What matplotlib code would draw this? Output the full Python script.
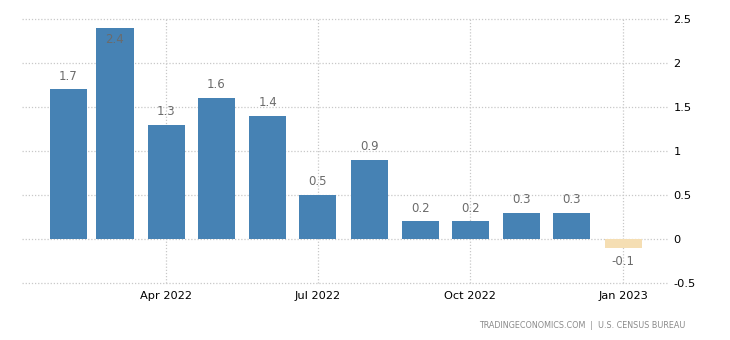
import matplotlib
matplotlib.use("Agg")
import matplotlib.pyplot as plt
import pandas as pd

months = ["2022-02", "2022-03", "2022-04", "2022-05", "2022-06", "2022-07",
          "2022-08", "2022-09", "2022-10", "2022-11", "2022-12", "2023-01"]
values = [1.7, 2.4, 1.3, 1.6, 1.4, 0.5, 0.9, 0.2, 0.2, 0.3, 0.3, -0.1]
y_ticks = [-0.5, 0, 0.5, 1, 1.5, 2, 2.5]
y_tick_labels = ["-0.5", "0", "0.5", "1", "1.5", "2", "2.5"]
x_tick_months = ["2022-04", "2022-07", "2022-10", "2023-01"]
x_tick_labels = ["Apr 2022", "Jul 2022", "Oct 2022", "Jan 2023"]
source = "TRADINGECONOMICS.COM  |  U.S. CENSUS BUREAU"

plt.rcParams["font.family"] = ["DejaVu Sans"]

dates = pd.to_datetime(months)
xt = pd.to_datetime(x_tick_months)

fig = plt.figure(figsize=(7.3, 3.4), dpi=100)
ax = fig.add_axes([22 / 730, 57 / 340, 646 / 730, 264 / 340])

colors = ["#4682b4" if v >= 0 else "#f5deb3" for v in values]
ax.bar(dates, values, width=22.3, color=colors, zorder=2)

ax.set_ylim(-0.5, 2.5)
ax.set_xlim(pd.Timestamp("2022-01-04"), pd.Timestamp("2023-01-28"))

ax.set_yticks(y_ticks)
ax.set_yticklabels(y_tick_labels)
ax.yaxis.tick_right()
ax.set_xticks(xt)
ax.set_xticklabels(x_tick_labels)

ax.tick_params(axis="both", length=0, labelsize=8.2, colors="black")
ax.tick_params(axis="y", pad=4)
ax.tick_params(axis="x", pad=6)
for lbl in ax.get_yticklabels():
    lbl.set_horizontalalignment("left")

ax.grid(True, color="#c8c8c8", linestyle=(0, (1, 1.5)), linewidth=0.9, zorder=0)
for gl in ax.get_xgridlines() + ax.get_ygridlines():
    gl.set_clip_on(False)
for s in ax.spines.values():
    s.set_visible(False)

for d, v in zip(dates, values):
    if v >= 2.3:
        ax.text(d, v - 0.13, f"{v:g}", ha="center", va="center",
                color="#6b6b6b", fontsize=8.5, zorder=3)
    elif v >= 0:
        ax.text(d, v + 0.15, f"{v:g}", ha="center", va="center",
                color="#6b6b6b", fontsize=8.5, zorder=3)
    else:
        ax.text(d, v - 0.16, f"{v:g}", ha="center", va="center",
                color="#6b6b6b", fontsize=8.5, zorder=3)

fig.text(685 / 730, 1 - 325 / 340, source, ha="right", va="center",
         color="#8a8a8a", fontsize=5.8)

fig.savefig("out.png", dpi=100)
